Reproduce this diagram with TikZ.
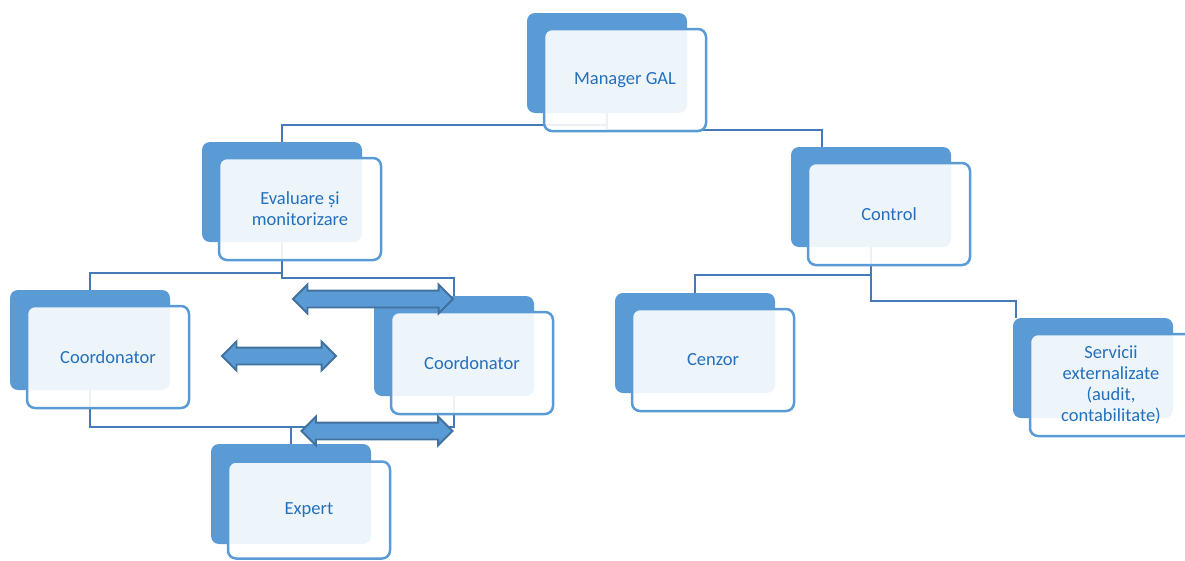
\documentclass[tikz,border=0pt]{standalone}
\usepackage{fontspec}
\setmainfont{Carlito}
\usetikzlibrary{calc,shapes.arrows}
\pgfdeclarelayer{background}
\pgfsetlayers{background,main}
\definecolor{boxblue}{RGB}{91,155,213}
\definecolor{edgeblue}{RGB}{65,113,156}
\definecolor{lineblue}{RGB}{70,122,182}
\definecolor{textblue}{RGB}{34,112,190}
\tikzset{Back/.style={
    rectangle,
    rounded corners=8pt,
    inner sep=0pt,
    minimum width=160pt,
    minimum height=100pt,
    fill=boxblue,
    },
    Front/.style={
    rectangle,
    rounded corners=8pt,
    inner sep=0pt,
    minimum width=162pt,
    minimum height=102pt,
    draw=boxblue,
    line width=2.5pt,
    fill=white,
    fill opacity=0.9,
    text opacity=1,
    text=textblue,
    align=center,
    font=\fontsize{18.5}{21.2}\selectfont,
    }
}

\begin{document}
\begin{tikzpicture}[x=1pt, y=-1pt,
    Link/.style={draw=lineblue, line width=2.3pt},
    Twin/.style={double arrow,
    double arrow head extend=6pt,
    inner xsep=0pt, inner ysep=7.5pt,
    minimum width=27pt,
    draw=edgeblue, line width=1.8pt,
    fill=boxblue},
]
\path[use as bounding box, clip] (0,0) rectangle (1185,560);
% boxes
\node [Back] (mgr) at (607,63) {};
\node [Front] (mgr-f) at ($(mgr)+(18,17)$) {Manager GAL};
\node [Back] (eva) at (282,192) {};
\node [Front] (eva-f) at ($(eva)+(18,17)$) {Evaluare și\\monitorizare};
\node [Back] (co1) at (90,340) {};
\node [Front] (co1-f) at ($(co1)+(18,17)$) {Coordonator};
\node [Back] (co2) at (454,346) {};
\node [Front] (co2-f) at ($(co2)+(18,17)$) {Coordonator};
\node [Back] (exp) at (291,494) {};
\node [Front,minimum height=97pt] (exp-f) at ($(exp)+(18,16)$) {Expert};
\node [Back] (ctl) at (871,197) {};
\node [Front] (ctl-f) at ($(ctl)+(18,17)$) {Control};
\node [Back] (cen) at (695,343) {};
\node [Front] (cen-f) at ($(cen)+(18,17)$) {Cenzor};
\node [Back] (srv) at (1093,368) {};
\node [Front] (srv-f) at ($(srv)+(18,17)$) {Servicii\\externalizate\\(audit,\\contabilitate)};
% connectors, behind the boxes
\begin{pgfonlayer}{background}
\draw [Link] (mgr.south) -- ++(0,12) -| (eva.north);
\draw [Link] (mgr.south) -- ++(0,17) -| ([xshift=-49pt]ctl.north);
\draw [Link] (eva.south) -- ++(0,31) -| (co1.north);
\draw [Link] (eva.south) -- ++(0,36) -| (co2.north);
\draw [Link] (co1.south) -- ++(0,37) -| (co2.south);
\draw [Link] (exp.north) -- ++(0,-17);
\draw [Link] (ctl.south) -- ++(0,28) -| (cen.north);
\draw [Link] (ctl.south) -- ++(0,54) -| ([xshift=-77pt]srv.north);
\end{pgfonlayer}
% block arrows
\node [Twin, minimum height=160pt] (tw1) at (373,299) {};
\node [Twin, minimum height=114pt] (tw2) at (279,356) {};
\node [Twin, minimum height=151pt] (tw3) at (377,431) {};
\end{tikzpicture}
\end{document}
